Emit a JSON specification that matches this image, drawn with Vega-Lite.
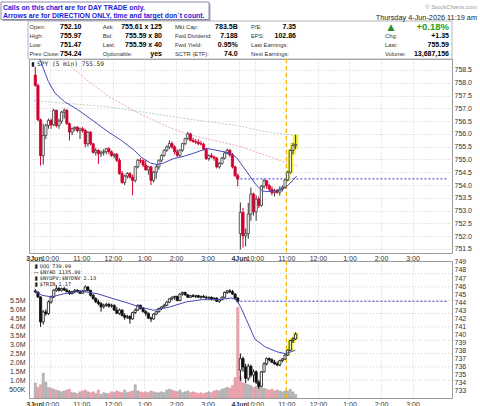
{
"$schema": "https://vega.github.io/schema/vega-lite/v6.json",
"padding": 0,
"bounds": "flush",
"spacing": 8,
"background": "white",
"config": {
  "view": {"stroke": "#9a9a9a", "strokeWidth": 1},
  "font": "Liberation Sans",
  "axis": {"labelFont": "Liberation Sans", "labelFontSize": 7, "labelColor": "#333", "domain": false, "ticks": false, "gridColor": "#d0d0d0", "gridDash": [1, 2], "labelOverlap": false, "labelFlush": false, "tickCount": 100}
},
"datasets": {
  "bars": [
{"t":2.5,"o":758.30,"h":758.62,"l":757.85,"c":757.90,"qo":745.40,"qh":745.60,"ql":745.10,"qc":745.26,"v":850000},
{"t":7.5,"o":757.90,"h":757.95,"l":756.50,"c":756.55,"qo":745.26,"qh":745.30,"ql":744.50,"qc":744.64,"v":600000},
{"t":12.5,"o":756.55,"h":756.60,"l":754.76,"c":755.15,"qo":744.64,"qh":744.70,"ql":740.90,"qc":741.52,"v":750000},
{"t":17.5,"o":755.15,"h":756.40,"l":754.80,"c":755.94,"qo":741.52,"qh":743.00,"ql":741.20,"qc":742.77,"v":1400000},
{"t":22.5,"o":755.94,"h":756.40,"l":755.80,"c":756.33,"qo":742.77,"qh":743.10,"ql":742.30,"qc":742.56,"v":900000},
{"t":27.5,"o":756.33,"h":756.60,"l":756.20,"c":756.53,"qo":742.56,"qh":744.20,"ql":742.40,"qc":744.02,"v":600000},
{"t":32.5,"o":756.53,"h":756.60,"l":756.20,"c":756.35,"qo":744.02,"qh":744.80,"ql":743.80,"qc":744.64,"v":550000},
{"t":37.5,"o":756.35,"h":756.98,"l":756.30,"c":756.92,"qo":744.64,"qh":745.60,"ql":744.50,"qc":745.47,"v":500000},
{"t":42.5,"o":756.92,"h":756.95,"l":756.25,"c":756.33,"qo":745.47,"qh":746.09,"ql":745.30,"qc":745.68,"v":450000},
{"t":47.5,"o":756.33,"h":756.60,"l":756.20,"c":756.50,"qo":745.68,"qh":745.90,"ql":745.30,"qc":745.47,"v":400000},
{"t":52.5,"o":756.50,"h":756.90,"l":756.40,"c":756.85,"qo":745.47,"qh":745.80,"ql":745.30,"qc":745.68,"v":350000},
{"t":57.5,"o":756.85,"h":757.00,"l":756.60,"c":756.92,"qo":745.68,"qh":745.90,"ql":745.40,"qc":745.50,"v":400000},
{"t":62.5,"o":756.92,"h":756.98,"l":756.35,"c":756.40,"qo":745.50,"qh":745.70,"ql":745.20,"qc":745.30,"v":450000},
{"t":67.5,"o":756.40,"h":756.45,"l":755.74,"c":756.07,"qo":745.30,"qh":745.50,"ql":744.90,"qc":745.05,"v":500000},
{"t":72.5,"o":756.07,"h":756.25,"l":755.95,"c":756.20,"qo":745.05,"qh":745.40,"ql":744.95,"qc":745.30,"v":300000},
{"t":77.5,"o":756.20,"h":756.30,"l":756.10,"c":756.26,"qo":745.30,"qh":745.60,"ql":745.10,"qc":745.47,"v":300000},
{"t":82.5,"o":756.26,"h":756.30,"l":756.05,"c":756.13,"qo":745.47,"qh":745.60,"ql":745.20,"qc":745.35,"v":250000},
{"t":87.5,"o":756.13,"h":756.25,"l":755.80,"c":756.20,"qo":745.35,"qh":745.50,"ql":745.00,"qc":745.10,"v":350000},
{"t":92.5,"o":756.20,"h":756.28,"l":756.05,"c":756.13,"qo":745.10,"qh":745.50,"ql":745.00,"qc":745.40,"v":400000},
{"t":97.5,"o":756.13,"h":756.20,"l":755.48,"c":755.61,"qo":745.40,"qh":746.09,"ql":745.30,"qc":745.89,"v":450000},
{"t":102.5,"o":755.61,"h":756.10,"l":755.50,"c":756.07,"qo":745.89,"qh":745.95,"ql":745.30,"qc":745.47,"v":350000},
{"t":107.5,"o":756.07,"h":756.10,"l":755.55,"c":755.61,"qo":745.47,"qh":745.50,"ql":744.70,"qc":744.85,"v":300000},
{"t":112.5,"o":755.61,"h":755.65,"l":755.22,"c":755.28,"qo":744.85,"qh":745.00,"ql":744.30,"qc":744.43,"v":350000},
{"t":117.5,"o":755.28,"h":755.45,"l":755.15,"c":755.35,"qo":744.43,"qh":744.60,"ql":743.90,"qc":744.02,"v":250000},
{"t":122.5,"o":755.35,"h":755.40,"l":754.83,"c":755.22,"qo":744.02,"qh":744.30,"ql":743.60,"qc":743.81,"v":450000},
{"t":127.5,"o":755.22,"h":755.35,"l":755.10,"c":755.28,"qo":743.81,"qh":744.00,"ql":742.80,"qc":743.40,"v":200000},
{"t":132.5,"o":755.28,"h":755.40,"l":755.15,"c":755.30,"qo":743.40,"qh":743.80,"ql":743.20,"qc":743.60,"v":300000},
{"t":137.5,"o":755.30,"h":755.45,"l":755.20,"c":755.42,"qo":743.60,"qh":743.90,"ql":743.40,"qc":743.70,"v":250000},
{"t":142.5,"o":755.42,"h":755.48,"l":755.20,"c":755.30,"qo":743.70,"qh":743.90,"ql":743.30,"qc":743.50,"v":250000},
{"t":147.5,"o":755.30,"h":755.35,"l":755.10,"c":755.15,"qo":743.50,"qh":743.80,"ql":743.30,"qc":743.60,"v":350000},
{"t":152.5,"o":755.15,"h":755.25,"l":755.05,"c":755.20,"qo":743.60,"qh":743.70,"ql":742.90,"qc":743.00,"v":300000},
{"t":157.5,"o":755.20,"h":755.25,"l":754.90,"c":754.97,"qo":743.00,"qh":743.40,"ql":742.50,"qc":742.60,"v":400000},
{"t":162.5,"o":754.97,"h":755.05,"l":754.40,"c":754.45,"qo":742.60,"qh":743.20,"ql":742.40,"qc":743.00,"v":350000},
{"t":167.5,"o":754.45,"h":754.55,"l":754.05,"c":754.10,"qo":743.00,"qh":743.10,"ql":742.20,"qc":742.35,"v":300000},
{"t":172.5,"o":754.10,"h":754.40,"l":754.00,"c":754.35,"qo":742.35,"qh":742.60,"ql":741.80,"qc":742.10,"v":450000},
{"t":177.5,"o":754.35,"h":754.50,"l":754.25,"c":754.45,"qo":742.10,"qh":742.40,"ql":741.90,"qc":742.20,"v":300000},
{"t":182.5,"o":754.45,"h":754.50,"l":754.25,"c":754.30,"qo":742.20,"qh":742.40,"ql":741.30,"qc":741.90,"v":350000},
{"t":187.5,"o":754.30,"h":754.40,"l":753.60,"c":754.18,"qo":741.90,"qh":742.80,"ql":741.80,"qc":742.70,"v":400000},
{"t":192.5,"o":754.18,"h":754.75,"l":754.10,"c":754.71,"qo":742.70,"qh":743.20,"ql":742.50,"qc":743.00,"v":750000},
{"t":197.5,"o":754.71,"h":755.02,"l":754.65,"c":754.97,"qo":743.00,"qh":743.70,"ql":742.90,"qc":743.60,"v":400000},
{"t":202.5,"o":754.97,"h":755.05,"l":754.85,"c":754.95,"qo":743.60,"qh":743.70,"ql":743.10,"qc":743.20,"v":350000},
{"t":207.5,"o":754.95,"h":755.00,"l":754.70,"c":754.78,"qo":743.20,"qh":743.40,"ql":742.70,"qc":742.80,"v":300000},
{"t":212.5,"o":754.78,"h":754.97,"l":754.55,"c":754.60,"qo":742.80,"qh":743.00,"ql":742.30,"qc":742.60,"v":350000},
{"t":217.5,"o":754.60,"h":754.75,"l":754.40,"c":754.71,"qo":742.60,"qh":742.70,"ql":741.90,"qc":742.00,"v":300000},
{"t":222.5,"o":754.71,"h":754.75,"l":754.00,"c":754.18,"qo":742.00,"qh":742.20,"ql":741.50,"qc":741.90,"v":400000},
{"t":227.5,"o":754.18,"h":754.55,"l":754.10,"c":754.50,"qo":741.90,"qh":742.60,"ql":741.80,"qc":742.50,"v":350000},
{"t":232.5,"o":754.50,"h":754.80,"l":754.25,"c":754.71,"qo":742.50,"qh":742.90,"ql":742.40,"qc":742.80,"v":300000},
{"t":237.5,"o":754.71,"h":755.00,"l":754.60,"c":754.97,"qo":742.80,"qh":743.30,"ql":742.70,"qc":743.20,"v":300000},
{"t":242.5,"o":754.97,"h":755.20,"l":754.90,"c":755.16,"qo":743.20,"qh":743.50,"ql":743.00,"qc":743.40,"v":350000},
{"t":247.5,"o":755.16,"h":755.40,"l":755.10,"c":755.36,"qo":743.40,"qh":743.80,"ql":743.30,"qc":743.60,"v":300000},
{"t":252.5,"o":755.36,"h":755.55,"l":755.30,"c":755.49,"qo":743.60,"qh":744.10,"ql":743.50,"qc":744.00,"v":450000},
{"t":257.5,"o":755.49,"h":755.75,"l":755.40,"c":755.62,"qo":744.00,"qh":744.50,"ql":743.90,"qc":744.40,"v":500000},
{"t":262.5,"o":755.62,"h":755.70,"l":755.40,"c":755.49,"qo":744.40,"qh":744.70,"ql":744.20,"qc":744.60,"v":450000},
{"t":267.5,"o":755.49,"h":755.55,"l":755.20,"c":755.30,"qo":744.60,"qh":744.80,"ql":744.30,"qc":744.70,"v":400000},
{"t":272.5,"o":755.30,"h":755.40,"l":755.10,"c":755.16,"qo":744.70,"qh":744.80,"ql":744.10,"qc":744.20,"v":350000},
{"t":277.5,"o":755.16,"h":755.40,"l":755.10,"c":755.36,"qo":744.20,"qh":745.10,"ql":744.10,"qc":745.00,"v":450000},
{"t":282.5,"o":755.36,"h":755.65,"l":755.30,"c":755.62,"qo":745.00,"qh":745.30,"ql":744.80,"qc":745.20,"v":300000},
{"t":287.5,"o":755.62,"h":755.85,"l":755.55,"c":755.82,"qo":745.20,"qh":745.30,"ql":744.80,"qc":744.90,"v":350000},
{"t":292.5,"o":755.82,"h":756.08,"l":755.75,"c":756.00,"qo":744.90,"qh":745.00,"ql":744.50,"qc":744.60,"v":400000},
{"t":297.5,"o":756.00,"h":756.05,"l":755.70,"c":755.75,"qo":744.60,"qh":744.90,"ql":744.50,"qc":744.80,"v":300000},
{"t":302.5,"o":755.75,"h":755.85,"l":755.65,"c":755.70,"qo":744.80,"qh":745.00,"ql":744.60,"qc":744.70,"v":350000},
{"t":307.5,"o":755.70,"h":755.80,"l":755.60,"c":755.68,"qo":744.70,"qh":744.90,"ql":744.50,"qc":744.80,"v":300000},
{"t":312.5,"o":755.68,"h":755.78,"l":755.55,"c":755.62,"qo":744.80,"qh":744.90,"ql":744.50,"qc":744.60,"v":250000},
{"t":317.5,"o":755.62,"h":755.72,"l":755.55,"c":755.60,"qo":744.60,"qh":744.80,"ql":744.40,"qc":744.70,"v":300000},
{"t":322.5,"o":755.60,"h":755.65,"l":755.35,"c":755.40,"qo":744.70,"qh":744.90,"ql":744.50,"qc":744.60,"v":250000},
{"t":327.5,"o":755.40,"h":755.45,"l":754.98,"c":755.03,"qo":744.60,"qh":744.80,"ql":744.40,"qc":744.50,"v":300000},
{"t":332.5,"o":755.03,"h":755.20,"l":754.95,"c":755.15,"qo":744.50,"qh":744.70,"ql":744.30,"qc":744.60,"v":350000},
{"t":337.5,"o":755.15,"h":755.25,"l":755.05,"c":755.10,"qo":744.60,"qh":744.70,"ql":744.20,"qc":744.40,"v":300000},
{"t":342.5,"o":755.10,"h":755.15,"l":754.95,"c":755.05,"qo":744.40,"qh":744.60,"ql":744.20,"qc":744.50,"v":400000},
{"t":347.5,"o":755.05,"h":755.10,"l":754.65,"c":754.71,"qo":744.50,"qh":744.60,"ql":744.00,"qc":744.10,"v":450000},
{"t":352.5,"o":754.71,"h":754.90,"l":754.64,"c":754.84,"qo":744.10,"qh":744.40,"ql":743.90,"qc":744.30,"v":400000},
{"t":357.5,"o":754.84,"h":755.10,"l":754.80,"c":755.05,"qo":744.30,"qh":744.70,"ql":744.20,"qc":744.60,"v":500000},
{"t":362.5,"o":755.05,"h":755.30,"l":755.00,"c":755.25,"qo":744.60,"qh":745.30,"ql":744.50,"qc":745.20,"v":550000},
{"t":367.5,"o":755.25,"h":755.42,"l":755.20,"c":755.36,"qo":745.20,"qh":745.50,"ql":745.00,"qc":745.40,"v":600000},
{"t":372.5,"o":755.36,"h":755.40,"l":755.10,"c":755.18,"qo":745.40,"qh":745.60,"ql":745.10,"qc":745.30,"v":550000},
{"t":377.5,"o":755.18,"h":755.25,"l":754.65,"c":754.71,"qo":745.30,"qh":745.50,"ql":744.90,"qc":745.00,"v":700000},
{"t":382.5,"o":754.71,"h":754.75,"l":754.30,"c":754.37,"qo":745.00,"qh":745.10,"ql":744.30,"qc":744.50,"v":1150000},
{"t":387.5,"o":754.37,"h":754.45,"l":753.95,"c":754.24,"qo":744.50,"qh":744.60,"ql":743.90,"qc":744.10,"v":5100000},
{"t":392.5,"o":752.10,"h":753.32,"l":751.47,"c":752.93,"qo":735.50,"qh":737.60,"ql":734.20,"qc":736.95,"v":1200000},
{"t":397.5,"o":752.93,"h":753.10,"l":751.55,"c":752.01,"qo":736.95,"qh":737.20,"ql":735.30,"qc":735.90,"v":850000},
{"t":402.5,"o":752.01,"h":752.30,"l":751.60,"c":752.10,"qo":735.90,"qh":736.30,"ql":733.90,"qc":734.50,"v":800000},
{"t":407.5,"o":752.10,"h":753.30,"l":751.90,"c":752.86,"qo":734.50,"qh":736.30,"ql":734.20,"qc":736.00,"v":750000},
{"t":412.5,"o":752.86,"h":753.90,"l":752.60,"c":753.65,"qo":736.00,"qh":736.20,"ql":734.60,"qc":734.90,"v":700000},
{"t":417.5,"o":753.65,"h":753.70,"l":752.80,"c":752.95,"qo":734.90,"qh":735.60,"ql":734.00,"qc":735.30,"v":600000},
{"t":422.5,"o":752.95,"h":753.60,"l":752.60,"c":753.45,"qo":735.30,"qh":735.50,"ql":733.80,"qc":734.00,"v":650000},
{"t":427.5,"o":753.45,"h":753.55,"l":753.10,"c":753.20,"qo":734.00,"qh":734.30,"ql":733.20,"qc":733.50,"v":900000},
{"t":432.5,"o":753.20,"h":754.00,"l":753.15,"c":753.95,"qo":733.50,"qh":735.40,"ql":733.40,"qc":735.30,"v":600000},
{"t":437.5,"o":753.95,"h":754.25,"l":753.85,"c":754.17,"qo":735.30,"qh":736.50,"ql":735.20,"qc":736.30,"v":550000},
{"t":442.5,"o":754.17,"h":754.20,"l":753.85,"c":753.97,"qo":736.30,"qh":737.10,"ql":736.10,"qc":736.95,"v":500000},
{"t":447.5,"o":753.97,"h":754.05,"l":753.75,"c":753.84,"qo":736.95,"qh":737.10,"ql":736.60,"qc":736.80,"v":450000},
{"t":452.5,"o":753.84,"h":753.95,"l":753.60,"c":753.70,"qo":736.80,"qh":737.00,"ql":736.40,"qc":736.50,"v":500000},
{"t":457.5,"o":753.70,"h":753.85,"l":753.55,"c":753.78,"qo":736.50,"qh":736.80,"ql":736.20,"qc":736.30,"v":400000},
{"t":462.5,"o":753.78,"h":753.85,"l":753.65,"c":753.72,"qo":736.30,"qh":736.60,"ql":736.00,"qc":736.15,"v":450000},
{"t":467.5,"o":753.72,"h":753.95,"l":753.58,"c":753.84,"qo":736.15,"qh":736.80,"ql":736.00,"qc":736.70,"v":400000},
{"t":472.5,"o":753.84,"h":753.98,"l":753.75,"c":753.91,"qo":736.70,"qh":737.00,"ql":736.50,"qc":736.90,"v":350000},
{"t":477.5,"o":753.91,"h":754.25,"l":753.85,"c":754.20,"qo":736.90,"qh":737.50,"ql":736.80,"qc":737.40,"v":400000},
{"t":482.5,"o":754.20,"h":754.55,"l":754.15,"c":754.50,"qo":737.40,"qh":738.10,"ql":737.30,"qc":738.00,"v":400000},
{"t":487.5,"o":754.50,"h":755.40,"l":754.45,"c":755.35,"qo":738.00,"qh":739.30,"ql":737.90,"qc":739.20,"v":500000},
{"t":492.5,"o":755.35,"h":755.65,"l":755.20,"c":755.55,"qo":739.20,"qh":739.60,"ql":738.90,"qc":739.40,"v":350000},
{"t":497.5,"o":755.55,"h":755.97,"l":755.40,"c":755.59,"qo":739.40,"qh":740.20,"ql":739.30,"qc":739.99,"v":200000}
  ],
  "spyma": [{"t":3,"p":759.1},{"t":11.7,"p":758.89},{"t":27.3,"p":758.05},{"t":39.6,"p":757.6},{"t":58.1,"p":757.26},{"t":83,"p":756.95},{"t":120,"p":756.4},{"t":141,"p":756.08},{"t":165.8,"p":755.75},{"t":190.7,"p":755.36},{"t":203,"p":755.1},{"t":221.5,"p":754.86},{"t":234,"p":754.8},{"t":246.4,"p":754.86},{"t":265,"p":755.03},{"t":286,"p":755.13},{"t":304.5,"p":755.25},{"t":329.2,"p":755.43},{"t":354,"p":755.33},{"t":372.7,"p":755.25},{"t":385,"p":755.08},{"t":403.5,"p":754.55},{"t":422,"p":754.02},{"t":434.5,"p":753.76},{"t":453,"p":753.74},{"t":468,"p":753.8},{"t":481,"p":753.95},{"t":494,"p":754.22},{"t":499.5,"p":754.35}],
  "spyma50": [{"t":50,"p":759.0},{"t":95,"p":758.2},{"t":143,"p":757.45},{"t":200,"p":756.8},{"t":258,"p":756.25},{"t":290,"p":756.0},{"t":320,"p":755.85},{"t":394,"p":755.5},{"t":435,"p":755.2},{"t":470,"p":754.95},{"t":500,"p":754.75}],
  "spyma200": [{"t":0,"p":757.3},{"t":141,"p":757.06},{"t":288,"p":756.6},{"t":394,"p":756.3},{"t":435,"p":756.1},{"t":500,"p":755.93}],
  "qqqma": [{"t":0,"p":745.45},{"t":14.9,"p":744.85},{"t":33.4,"p":744.64},{"t":57.6,"p":745.05},{"t":89.1,"p":745.35},{"t":120.1,"p":745.05},{"t":150.4,"p":744.43},{"t":182,"p":743.81},{"t":200.6,"p":743.39},{"t":227.9,"p":742.98},{"t":258.1,"p":743.39},{"t":289.7,"p":744.02},{"t":320.7,"p":744.31},{"t":351,"p":744.31},{"t":376.4,"p":744.51},{"t":385.7,"p":744.22},{"t":393.7,"p":743.3},{"t":404,"p":741.8},{"t":420,"p":739.4},{"t":440,"p":738.4},{"t":463,"p":737.78},{"t":478.6,"p":737.57},{"t":497.1,"p":737.99}],
  "vgrid": [{"v":1000000},{"v":1750000},{"v":2500000},{"v":3250000},{"v":4000000},{"v":4750000},{"v":5500000},{"v":6250000},{"v":7000000}],
  "hlab": [
{"hx":0.5,"hy":32,"txt":"Open:"},{"hx":0.5,"hy":23.3,"txt":"High:"},{"hx":0.5,"hy":14.3,"txt":"Low:"},{"hx":0.5,"hy":5.3,"txt":"Prev Close:"},
{"hx":73.7,"hy":32,"txt":"Ask:"},{"hx":73.7,"hy":23.3,"txt":"Bid:"},{"hx":73.7,"hy":14.3,"txt":"Last:"},{"hx":73.7,"hy":5.3,"txt":"Optionable:"},
{"hx":146,"hy":32,"txt":"Mkt Cap:"},{"hx":146,"hy":23.3,"txt":"Fwd Dividend:"},{"hx":146,"hy":14.3,"txt":"Fwd Yield:"},{"hx":146,"hy":5.3,"txt":"SCTR (ETF):"},
{"hx":222,"hy":32,"txt":"P/E:"},{"hx":222,"hy":23.3,"txt":"EPS:"},{"hx":222,"hy":14.3,"txt":"Last Earnings:"},{"hx":222,"hy":5.3,"txt":"Next Earnings:"},
{"hx":356,"hy":23.3,"txt":"Chg:"},{"hx":356,"hy":14.3,"txt":"Last:"},{"hx":356,"hy":5.3,"txt":"Volume:"}],
  "hval": [
{"hx":52.5,"hy":32,"txt":"752.10"},{"hx":52.5,"hy":23.3,"txt":"755.97"},{"hx":52.5,"hy":14.3,"txt":"751.47"},{"hx":52.5,"hy":5.3,"txt":"754.24"},
{"hx":133,"hy":32,"txt":"755.61 x 125"},{"hx":133,"hy":23.3,"txt":"755.59 x 80"},{"hx":133,"hy":14.3,"txt":"755.59 x 40"},{"hx":133,"hy":5.3,"txt":"yes"},
{"hx":208.7,"hy":32,"txt":"783.5B"},{"hx":208.7,"hy":23.3,"txt":"7.188"},{"hx":208.7,"hy":14.3,"txt":"0.95%"},{"hx":208.7,"hy":5.3,"txt":"74.0"},
{"hx":267,"hy":32,"txt":"7.35"},{"hx":267,"hy":23.3,"txt":"102.86"},
{"hx":420,"hy":23.3,"txt":"+1.35"},{"hx":420,"hy":14.3,"txt":"755.59"},{"hx":420,"hy":5.3,"txt":"13,687,156"}]
},
"vconcat": [
 {
  "width": 423, "height": 194,
  "resolve": {"scale": {"x": "independent", "y": "independent"}},
  "layer": [
   {
    "layer": [
     {"data": {"values": [{"x1": -1, "x2": 423, "y1": 0, "y2": 38}]},
      "mark": {"type": "rect", "fillOpacity": 0, "stroke": "#b4b4b4", "strokeWidth": 1},
      "encoding": {
        "x": {"field": "x1", "type": "quantitative", "scale": {"domain": [0, 423], "nice": false, "zero": false}, "axis": null},
        "x2": {"field": "x2"},
        "y": {"field": "y1", "type": "quantitative", "scale": {"domain": [-194, 0], "nice": false, "zero": false}, "axis": null},
        "y2": {"field": "y2"}}},
     {"data": {"values": [{"x1": -28, "x2": 180, "y1": 39.5, "y2": 57}]},
      "mark": {"type": "rect", "fill": "#a8a8b8", "xOffset": 1.5, "x2Offset": 1.5, "yOffset": 1.5, "y2Offset": 1.5},
      "encoding": {
        "x": {"field": "x1", "type": "quantitative", "scale": {"domain": [0, 423], "nice": false, "zero": false}, "axis": null},
        "x2": {"field": "x2"},
        "y": {"field": "y1", "type": "quantitative", "scale": {"domain": [-194, 0], "nice": false, "zero": false}, "axis": null},
        "y2": {"field": "y2"}}},
     {"data": {"values": [{"x1": -28, "x2": 180, "y1": 39.5, "y2": 57}]},
      "mark": {"type": "rect", "fill": "white", "stroke": "#8a8aaa", "strokeWidth": 1},
      "encoding": {
        "x": {"field": "x1", "type": "quantitative", "scale": {"domain": [0, 423], "nice": false, "zero": false}, "axis": null},
        "x2": {"field": "x2"},
        "y": {"field": "y1", "type": "quantitative", "scale": {"domain": [-194, 0], "nice": false, "zero": false}, "axis": null},
        "y2": {"field": "y2"}}},
     {"data": {"values": [{"hx": -26, "hy": 51.3, "txt": "Calls on this chart are for DAY TRADE only."}, {"hx": -26, "hy": 43.3, "txt": "Arrows are for DIRECTION ONLY, time and target don`t count."}]},
      "mark": {"type": "text", "align": "left", "baseline": "middle", "font": "Liberation Sans", "fontSize": 6.9, "fontWeight": "bold", "color": "#1a1ad8"},
      "encoding": {
        "x": {"field": "hx", "type": "quantitative", "scale": {"domain": [0, 423], "nice": false, "zero": false}, "axis": null},
        "y": {"field": "hy", "type": "quantitative", "scale": {"domain": [-194, 0], "nice": false, "zero": false}, "axis": null},
        "text": {"field": "txt"}}},
     {"data": {"values": [{"hx": 448, "hy": 52, "txt": "© StockCharts.com"}]},
      "mark": {"type": "text", "align": "right", "baseline": "middle", "font": "Liberation Sans", "fontSize": 6, "color": "#999"},
      "encoding": {
        "x": {"field": "hx", "type": "quantitative", "scale": {"domain": [0, 423], "nice": false, "zero": false}, "axis": null},
        "y": {"field": "hy", "type": "quantitative", "scale": {"domain": [-194, 0], "nice": false, "zero": false}, "axis": null},
        "text": {"field": "txt"}}},
     {"data": {"values": [{"hx": 448, "hy": 41.3, "txt": "Thursday  4-Jun-2026  11:19 am"}]},
      "mark": {"type": "text", "align": "right", "baseline": "middle", "font": "Liberation Sans", "fontSize": 7.3, "color": "#222"},
      "encoding": {
        "x": {"field": "hx", "type": "quantitative", "scale": {"domain": [0, 423], "nice": false, "zero": false}, "axis": null},
        "y": {"field": "hy", "type": "quantitative", "scale": {"domain": [-194, 0], "nice": false, "zero": false}, "axis": null},
        "text": {"field": "txt"}}},
     {"data": {"name": "hlab"},
      "mark": {"type": "text", "align": "left", "baseline": "middle", "font": "Liberation Sans", "fontSize": 5.8, "color": "#333"},
      "encoding": {
        "x": {"field": "hx", "type": "quantitative", "scale": {"domain": [0, 423], "nice": false, "zero": false}, "axis": null},
        "y": {"field": "hy", "type": "quantitative", "scale": {"domain": [-194, 0], "nice": false, "zero": false}, "axis": null},
        "text": {"field": "txt"}}},
     {"data": {"name": "hval"},
      "mark": {"type": "text", "align": "right", "baseline": "middle", "font": "Liberation Sans", "fontSize": 7, "fontWeight": "bold", "color": "#000"},
      "encoding": {
        "x": {"field": "hx", "type": "quantitative", "scale": {"domain": [0, 423], "nice": false, "zero": false}, "axis": null},
        "y": {"field": "hy", "type": "quantitative", "scale": {"domain": [-194, 0], "nice": false, "zero": false}, "axis": null},
        "text": {"field": "txt"}}},
     {"data": {"values": [{"hx": 420, "hy": 32.5, "txt": "+0.18%"}]},
      "mark": {"type": "text", "align": "right", "baseline": "middle", "font": "Liberation Sans", "fontSize": 9.5, "fontWeight": "bold", "color": "#22a022"},
      "encoding": {
        "x": {"field": "hx", "type": "quantitative", "scale": {"domain": [0, 423], "nice": false, "zero": false}, "axis": null},
        "y": {"field": "hy", "type": "quantitative", "scale": {"domain": [-194, 0], "nice": false, "zero": false}, "axis": null},
        "text": {"field": "txt"}}},
     {"data": {"values": [{"hx": 362, "hy": 32.5, "txt": "▲"}]},
      "mark": {"type": "text", "align": "center", "baseline": "middle", "font": "DejaVu Sans", "fontSize": 9, "color": "#2a8a2a"},
      "encoding": {
        "x": {"field": "hx", "type": "quantitative", "scale": {"domain": [0, 423], "nice": false, "zero": false}, "axis": null},
        "y": {"field": "hy", "type": "quantitative", "scale": {"domain": [-194, 0], "nice": false, "zero": false}, "axis": null},
        "text": {"field": "txt"}}},
     {"data": {"values": [{"hx": 8, "hy": -4.5, "txt": "SPY (5 min) 755.59"}]},
      "mark": {"type": "text", "align": "left", "baseline": "middle", "font": "DejaVu Sans Mono", "fontSize": 6.2, "color": "#222"},
      "encoding": {
        "x": {"field": "hx", "type": "quantitative", "scale": {"domain": [0, 423], "nice": false, "zero": false}, "axis": null},
        "y": {"field": "hy", "type": "quantitative", "scale": {"domain": [-194, 0], "nice": false, "zero": false}, "axis": null},
        "text": {"field": "txt"}}},
     {"data": {"values": [{"hx": 4, "hy": -4.5, "txt": "▮"}]},
      "mark": {"type": "text", "align": "center", "baseline": "middle", "font": "DejaVu Sans", "fontSize": 6, "color": "#111"},
      "encoding": {
        "x": {"field": "hx", "type": "quantitative", "scale": {"domain": [0, 423], "nice": false, "zero": false}, "axis": null},
        "y": {"field": "hy", "type": "quantitative", "scale": {"domain": [-194, 0], "nice": false, "zero": false}, "axis": null},
        "text": {"field": "txt"}}}
    ]
   },
   {
    "data": {"name": "bars"},
    "layer": [
     {"data": {"name": "spyma200"},
      "mark": {"type": "line", "color": "#b9d4b9", "strokeWidth": 1, "strokeDash": [2, 1.5], "clip": true},
      "encoding": {
        "x": {"field": "t", "type": "quantitative", "title": null, "scale": {"domain": [0, 785.5], "nice": false, "zero": false},
              "axis": {"values": [0, 30, 90, 150, 210, 270, 330, 390, 420, 480, 540, 600, 660, 720], "labelExpr": "datum.value == 0 ? '3Jun' : datum.value == 390 ? '4Jun' : ((floor((570 + datum.value % 390) / 60) - 1) % 12 + 1) + ':00'", "labelFontWeight": {"condition": {"test": "datum.value == 0 || datum.value == 390", "value": "bold"}, "value": "normal"}, "grid": true, "labelPadding": 1, "labelOverlap": false, "labelFlush": false, "tickCount": 100}},
        "y": {"field": "p", "type": "quantitative", "title": null, "scale": {"domain": [751.34, 758.93], "nice": false, "zero": false},
              "axis": {"orient": "right", "values": [751.5, 752, 752.5, 753, 753.5, 754, 754.5, 755, 755.5, 756, 756.5, 757, 757.5, 758, 758.5], "format": ".1f", "grid": true, "labelPadding": 2, "labelOverlap": false, "labelFlush": false, "tickCount": 100}}}},
     {"data": {"name": "spyma50"},
      "mark": {"type": "line", "color": "#f0a8b8", "strokeWidth": 1, "strokeDash": [2, 1.5], "clip": true},
      "encoding": {
        "x": {"field": "t", "type": "quantitative", "title": null, "scale": {"domain": [0, 785.5], "nice": false, "zero": false}},
        "y": {"field": "p", "type": "quantitative", "title": null, "scale": {"domain": [751.34, 758.93], "nice": false, "zero": false}}}},
     {"data": {"values": [{"t": 385, "t2": 785.5, "p": 754.24}]},
      "mark": {"type": "rule", "color": "#3434d0", "strokeWidth": 1, "strokeDash": [2, 2]},
      "encoding": {
        "x": {"field": "t", "type": "quantitative", "title": null, "scale": {"domain": [0, 785.5], "nice": false, "zero": false}},
        "x2": {"field": "t2"},
        "y": {"field": "p", "type": "quantitative", "title": null, "scale": {"domain": [751.34, 758.93], "nice": false, "zero": false}}}},
     {"data": {"values": [{"t": 480}]},
      "mark": {"type": "rule", "color": "#f2b400", "strokeWidth": 1.2, "strokeDash": [4, 3]},
      "encoding": {
        "x": {"field": "t", "type": "quantitative", "title": null, "scale": {"domain": [0, 785.5], "nice": false, "zero": false}}}},
     {"transform": [{"filter": "datum.t >= 480"}],
      "mark": {"type": "rule", "color": "#f0f020", "strokeWidth": 5.5, "opacity": 0.9},
      "encoding": {
        "x": {"field": "t", "type": "quantitative", "title": null, "scale": {"domain": [0, 785.5], "nice": false, "zero": false}},
        "y": {"field": "l", "type": "quantitative", "title": null, "scale": {"domain": [751.34, 758.93], "nice": false, "zero": false}},
        "y2": {"field": "h"}}},
     {"mark": {"type": "rule", "strokeWidth": 1},
      "encoding": {
        "x": {"field": "t", "type": "quantitative", "title": null, "scale": {"domain": [0, 785.5], "nice": false, "zero": false}},
        "y": {"field": "l", "type": "quantitative", "title": null, "scale": {"domain": [751.34, 758.93], "nice": false, "zero": false}},
        "y2": {"field": "h"},
        "color": {"condition": {"test": "datum.c < datum.o", "value": "#d4002e"}, "value": "#3a3a3a"}}},
     {"mark": {"type": "bar", "orient": "vertical", "size": 2.2, "strokeWidth": 0.8},
      "encoding": {
        "x": {"field": "t", "type": "quantitative", "title": null, "scale": {"domain": [0, 785.5], "nice": false, "zero": false}},
        "y": {"field": "o", "type": "quantitative", "title": null, "scale": {"domain": [751.34, 758.93], "nice": false, "zero": false}},
        "y2": {"field": "c"},
        "fill": {"condition": {"test": "datum.c < datum.o", "value": "#d4002e"}, "value": "#ffffff"},
        "stroke": {"condition": {"test": "datum.c < datum.o", "value": "#d4002e"}, "value": "#333333"}}},
     {"data": {"name": "spyma"},
      "mark": {"type": "line", "color": "#4848b8", "strokeWidth": 1, "clip": true},
      "encoding": {
        "x": {"field": "t", "type": "quantitative", "title": null, "scale": {"domain": [0, 785.5], "nice": false, "zero": false}},
        "y": {"field": "p", "type": "quantitative", "title": null, "scale": {"domain": [751.34, 758.93], "nice": false, "zero": false}}}}
    ]
   }
  ]
 },
 {
  "width": 423, "height": 137,
  "resolve": {"scale": {"y": "independent"}},
  "layer": [
   {
    "data": {"name": "bars"},
    "layer": [
     {"data": {"name": "vgrid"},
      "mark": {"type": "rule", "color": "#d0d0d0", "strokeWidth": 1, "strokeDash": [1, 2]},
      "encoding": {
        "y": {"field": "v", "type": "quantitative", "title": null, "scale": {"domain": [0, 7710000], "nice": false, "zero": false},
              "axis": {"orient": "left", "values": [500000, 1000000, 1500000, 2000000, 2500000, 3000000, 3500000, 4000000, 4500000, 5000000, 5500000], "labelExpr": "datum.value < 1000000 ? format(datum.value / 1000, 'd') + 'K' : format(datum.value / 1000000, '.1f') + 'M'", "grid": false, "labelPadding": 4, "labelOverlap": false, "labelFlush": false, "tickCount": 100}}}},
     {"transform": [{"window": [{"op": "lag", "field": "c", "as": "pc"}], "sort": [{"field": "t"}]}],
      "mark": {"type": "bar", "orient": "vertical", "size": 2.3, "strokeWidth": 0.4},
      "encoding": {
        "x": {"field": "t", "type": "quantitative", "title": null, "scale": {"domain": [0, 785.5], "nice": false, "zero": false},
              "axis": {"values": [0, 30, 90, 150, 210, 270, 330, 390, 420, 480, 540, 600, 660, 720], "labelExpr": "datum.value == 0 ? '3Jun' : datum.value == 390 ? '4Jun' : ((floor((570 + datum.value % 390) / 60) - 1) % 12 + 1) + ':00'", "labelFontWeight": {"condition": {"test": "datum.value == 0 || datum.value == 390", "value": "bold"}, "value": "normal"}, "grid": true, "labelPadding": 2, "labelOverlap": false, "labelFlush": false, "tickCount": 100}},
        "y": {"field": "v", "type": "quantitative", "title": null, "scale": {"domain": [0, 7710000], "nice": false, "zero": false}},
        "fill": {"condition": {"test": "datum.pc != null && datum.c < datum.pc", "value": "#efa3ae"}, "value": "#b8b8b8"},
        "stroke": {"condition": {"test": "datum.pc != null && datum.c < datum.pc", "value": "#d98593"}, "value": "#9a9a9a"}}}
    ]
   },
   {
    "data": {"name": "bars"},
    "layer": [
     {"data": {"values": [{"t": 385, "t2": 785.5, "p": 744.1}]},
      "mark": {"type": "rule", "color": "#3434d0", "strokeWidth": 1, "strokeDash": [2, 2]},
      "encoding": {
        "x": {"field": "t", "type": "quantitative", "title": null, "scale": {"domain": [0, 785.5], "nice": false, "zero": false}},
        "x2": {"field": "t2"},
        "y": {"field": "p", "type": "quantitative", "title": null, "scale": {"domain": [732.04, 749.12], "nice": false, "zero": false},
              "axis": {"orient": "right", "values": [733, 734, 735, 736, 737, 738, 739, 740, 741, 742, 743, 744, 745, 746, 747, 748, 749], "format": "d", "grid": false, "labelPadding": 2, "labelOverlap": false, "labelFlush": false, "tickCount": 100}}}},
     {"data": {"values": [{"t": 480}]},
      "mark": {"type": "rule", "color": "#f2b400", "strokeWidth": 1.2, "strokeDash": [4, 3]},
      "encoding": {
        "x": {"field": "t", "type": "quantitative", "title": null, "scale": {"domain": [0, 785.5], "nice": false, "zero": false}}}},
     {"transform": [{"filter": "datum.t >= 480"}],
      "mark": {"type": "rule", "color": "#f0f020", "strokeWidth": 5.5, "opacity": 0.9},
      "encoding": {
        "x": {"field": "t", "type": "quantitative", "title": null, "scale": {"domain": [0, 785.5], "nice": false, "zero": false}},
        "y": {"field": "ql", "type": "quantitative", "title": null, "scale": {"domain": [732.04, 749.12], "nice": false, "zero": false}},
        "y2": {"field": "qh"}}},
     {"mark": {"type": "rule", "strokeWidth": 1, "color": "#111"},
      "encoding": {
        "x": {"field": "t", "type": "quantitative", "title": null, "scale": {"domain": [0, 785.5], "nice": false, "zero": false}},
        "y": {"field": "ql", "type": "quantitative", "title": null, "scale": {"domain": [732.04, 749.12], "nice": false, "zero": false}},
        "y2": {"field": "qh"}}},
     {"mark": {"type": "bar", "orient": "vertical", "size": 2.2, "strokeWidth": 0.8, "stroke": "#111"},
      "encoding": {
        "x": {"field": "t", "type": "quantitative", "title": null, "scale": {"domain": [0, 785.5], "nice": false, "zero": false}},
        "y": {"field": "qo", "type": "quantitative", "title": null, "scale": {"domain": [732.04, 749.12], "nice": false, "zero": false}},
        "y2": {"field": "qc"},
        "fill": {"condition": {"test": "datum.qc < datum.qo", "value": "#111111"}, "value": "#ffffff"}}},
     {"data": {"name": "qqqma"},
      "mark": {"type": "line", "color": "#4848b8", "strokeWidth": 1, "clip": true},
      "encoding": {
        "x": {"field": "t", "type": "quantitative", "title": null, "scale": {"domain": [0, 785.5], "nice": false, "zero": false}},
        "y": {"field": "p", "type": "quantitative", "title": null, "scale": {"domain": [732.04, 749.12], "nice": false, "zero": false}}}},
     {"data": {"values": [{"t": 11, "p": 748.5, "txt": "QQQ 739.99"}, {"t": 11, "p": 747.75, "txt": "$NYAD 1135.00"}, {"t": 11, "p": 747.0, "txt": "$NYUPV:$NYDNV 2.13"}, {"t": 11, "p": 746.26, "txt": "$TRIN 1.17"}]},
      "mark": {"type": "text", "align": "left", "baseline": "middle", "font": "DejaVu Sans Mono", "fontSize": 5.2, "color": "#222"},
      "encoding": {
        "x": {"field": "t", "type": "quantitative", "title": null, "scale": {"domain": [0, 785.5], "nice": false, "zero": false}},
        "y": {"field": "p", "type": "quantitative", "title": null, "scale": {"domain": [732.04, 749.12], "nice": false, "zero": false}},
        "text": {"field": "txt"}}},
     {"data": {"values": [{"t": 4.5, "p": 748.5, "txt": "▮"}, {"t": 4.5, "p": 747.75, "txt": "—"}, {"t": 4.5, "p": 747.0, "txt": "▮"}, {"t": 4.5, "p": 746.26, "txt": "▮"}]},
      "mark": {"type": "text", "align": "center", "baseline": "middle", "font": "DejaVu Sans", "fontSize": 5.5, "color": "#111"},
      "encoding": {
        "x": {"field": "t", "type": "quantitative", "title": null, "scale": {"domain": [0, 785.5], "nice": false, "zero": false}},
        "y": {"field": "p", "type": "quantitative", "title": null, "scale": {"domain": [732.04, 749.12], "nice": false, "zero": false}},
        "text": {"field": "txt"}}}
    ]
   }
  ]
 }
]
}
